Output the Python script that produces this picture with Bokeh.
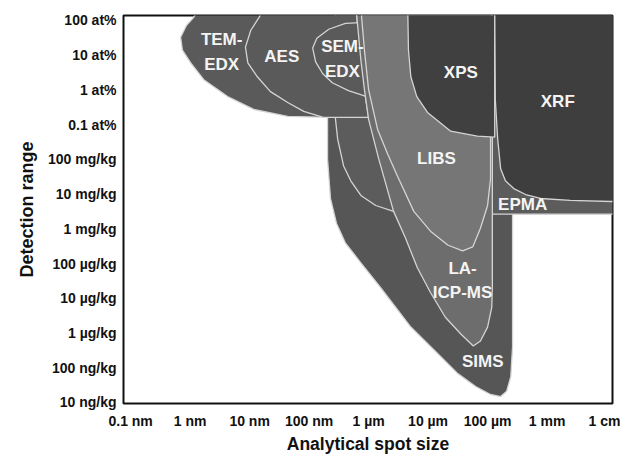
from bokeh.plotting import figure
from bokeh.models import FixedTicker, Range1d, ColumnDataSource
from bokeh.embed import file_html
from bokeh.resources import INLINE
from bokeh.core.properties import value

# Axis ticks: x = log10(spot size in m), y = log10(mass fraction)
x_ticks = [-10, -9, -8, -7, -6, -5, -4, -3, -2]
x_tick_labels = ["0.1 nm", "1 nm", "10 nm", "100 nm", "1 µm", "10 µm", "100 µm", "1 mm", "1 cm"]
y_ticks = [-11, -10, -9, -8, -7, -6, -5, -4, -3, -2, -1, 0]
y_tick_labels = ["10 ng/kg", "100 ng/kg", "1 µg/kg", "10 µg/kg", "100 µg/kg", "1 mg/kg",
                 "10 mg/kg", "100 mg/kg", "0.1 at%", "1 at%", "10 at%", "100 at%"]

# Region outlines (log10 m, log10 fraction)
sims_x = [-6.69, -6.69, -6.64, -6.54, -6.39, -6.13, -5.80, -5.29, -4.87, -4.50, -4.20, -3.95, -3.78, -3.68, -3.61, -3.58, -3.58]
sims_y = [-2.79, -3.99, -5.13, -5.84, -6.41, -6.98, -7.69, -8.83, -9.54, -10.17, -10.54, -10.77, -10.83, -10.68, -10.26, -9.40, -2.79]

epma_x = [-6.56, -6.52, -6.42, -6.30, -6.13, -5.88, -5.58, -3.92, -1.5, -1.5, -6.56]
epma_y = [-2.79, -3.42, -4.19, -4.62, -5.04, -5.33, -5.50, -5.58, -5.58, 0.5, 0.5]

temedx_x = [-8.82, -8.94, -9.06, -9.16, -9.13, -8.99, -8.77, -8.37, -7.93, -7.36, -6.69, -6.00, -6.07, -6.13, -6.20, -6.22]
temedx_y = [0.5, 0.085, -0.142, -0.484, -0.855, -1.225, -1.709, -2.194, -2.564, -2.764, -2.792, -2.792, -1.994, -1.140, 0.142, 0.5]

aes_x = [-7.80, -7.83, -7.98, -8.07, -8.03, -7.87, -7.65, -7.36, -7.09, -6.76, -6.00, -6.07, -6.13, -6.20, -6.22]
aes_y = [0.5, 0.114, -0.285, -0.769, -1.225, -1.624, -2.051, -2.365, -2.621, -2.792, -2.792, -1.994, -1.140, 0.142, 0.5]

semedx_x = [-6.05, -6.39, -6.67, -6.87, -6.94, -6.89, -6.77, -6.61, -6.34, -6.03, -5.71, -5.71]
semedx_y = [-0.057, -0.085, -0.256, -0.513, -0.798, -1.197, -1.538, -1.795, -2.023, -2.194, -2.194, -0.057]

laicpms_x = [-6.22, -6.20, -6.13, -6.07, -6.00, -5.83, -5.58, -5.38, -5.18, -4.96, -4.71, -4.45, -4.24, -4.12, -4.00, -3.93, -3.92, -3.92]
laicpms_y = [0.5, 0.142, -1.140, -1.994, -2.849, -3.989, -5.499, -6.268, -7.123, -7.835, -8.547, -9.031, -9.373, -9.231, -8.832, -8.262, -7.692, 0.5]

libs_x = [-6.13, -6.12, -6.07, -6.00, -5.85, -5.68, -5.51, -5.24, -4.96, -4.67, -4.42, -4.25, -4.12, -4.00, -3.95, -3.95, -3.93]
libs_y = [0.5, 0.142, -0.855, -1.994, -3.134, -3.846, -4.501, -5.499, -6.068, -6.467, -6.638, -6.524, -5.983, -5.328, -4.558, -3.419, 0.5]

xps_x = [-5.34, -5.34, -5.33, -5.29, -5.19, -5.01, -4.62, -4.17, -3.88, -3.88]
xps_y = [0.5, 0.142, -0.855, -1.624, -2.194, -2.650, -3.191, -3.333, -3.362, 0.5]

xrf_x = [-3.88, -3.87, -3.83, -3.78, -3.70, -3.56, -3.36, -3.11, -2.61, -1.92, -1.5, -1.5]
xrf_y = [0.5, -2.279, -3.419, -4.274, -4.615, -4.843, -5.014, -5.128, -5.185, -5.214, -5.214, 0.5]

# Region labels
label_text = ["TEM-\nEDX", "AES", "SEM-\nEDX", "XPS", "XRF", "LIBS", "EPMA", "LA-\nICP-MS", "SIMS"]
label_x = [-8.47, -7.46, -6.44, -4.45, -2.82, -4.86, -3.41, -4.42, -4.08]
label_y = [-0.91, -1.03, -1.11, -1.51, -2.34, -3.99, -5.30, -7.49, -9.83]

p = figure(width=620, height=456, output_backend="svg", toolbar_location=None,
           x_range=Range1d(-10.12, -1.9), y_range=Range1d(-11.03, 0.14),
           min_border_left=123, min_border_right=8, min_border_top=15, min_border_bottom=49)
p.background_fill_color = "white"
p.border_fill_color = "white"
p.outline_line_color = "#111111"
p.outline_line_width = 2
p.xgrid.visible = False
p.ygrid.visible = False

edge = "#d4d4d4"
regions = [
    (sims_x, sims_y, "#565656"),
    (epma_x, epma_y, "#5c5c5c"),
    (temedx_x, temedx_y, "#5a5a5a"),
    (aes_x, aes_y, "#5a5a5a"),
    (semedx_x, semedx_y, "#5a5a5a"),
    (laicpms_x, laicpms_y, "#6d6d6d"),
    (libs_x, libs_y, "#767676"),
    (xps_x, xps_y, "#404040"),
    (xrf_x, xrf_y, "#3e3e3e"),
]
for rx, ry, col in regions:
    p.patch(rx, ry, fill_color=col, line_color=edge, line_width=1.3)

src = ColumnDataSource(dict(x=label_x, y=label_y, text=label_text))
p.text(x="x", y="y", text="text", source=src, text_color="#f4f4f4",
       text_font=value("Liberation Sans"), text_font_style="bold", text_font_size="17px",
       text_align="center", text_baseline="middle", text_line_height=1.3)

for ax in (p.xaxis[0], p.yaxis[0]):
    ax.axis_line_color = None
    ax.major_tick_line_color = None
    ax.minor_tick_line_color = None
    ax.major_tick_out = 0
    ax.major_tick_in = 0
    ax.minor_tick_out = 0
    ax.minor_tick_in = 0
    ax.major_label_text_font = "Liberation Sans"
    ax.major_label_text_font_style = "bold"
    ax.major_label_text_font_size = "14px"
    ax.major_label_text_color = "#111111"
    ax.axis_label_text_font = "Liberation Sans"
    ax.axis_label_text_font_style = "bold"
    ax.axis_label_text_color = "#111111"

p.xaxis.axis_label_text_font_size = "17.5px"
p.yaxis.axis_label_text_font_size = "18px"
p.xaxis.ticker = FixedTicker(ticks=x_ticks)
p.xaxis.major_label_overrides = {t: l for t, l in zip(x_ticks, x_tick_labels)}
p.yaxis.ticker = FixedTicker(ticks=y_ticks)
p.yaxis.major_label_overrides = {t: l for t, l in zip(y_ticks, y_tick_labels)}
p.xaxis.axis_label = "Analytical spot size"
p.yaxis.axis_label = "Detection range"
p.xaxis.major_label_standoff = 9
p.xaxis.axis_label_standoff = 2
p.yaxis.major_label_standoff = 7
p.yaxis.axis_label_standoff = 8

open("out.html", "w").write(file_html(p, INLINE))
